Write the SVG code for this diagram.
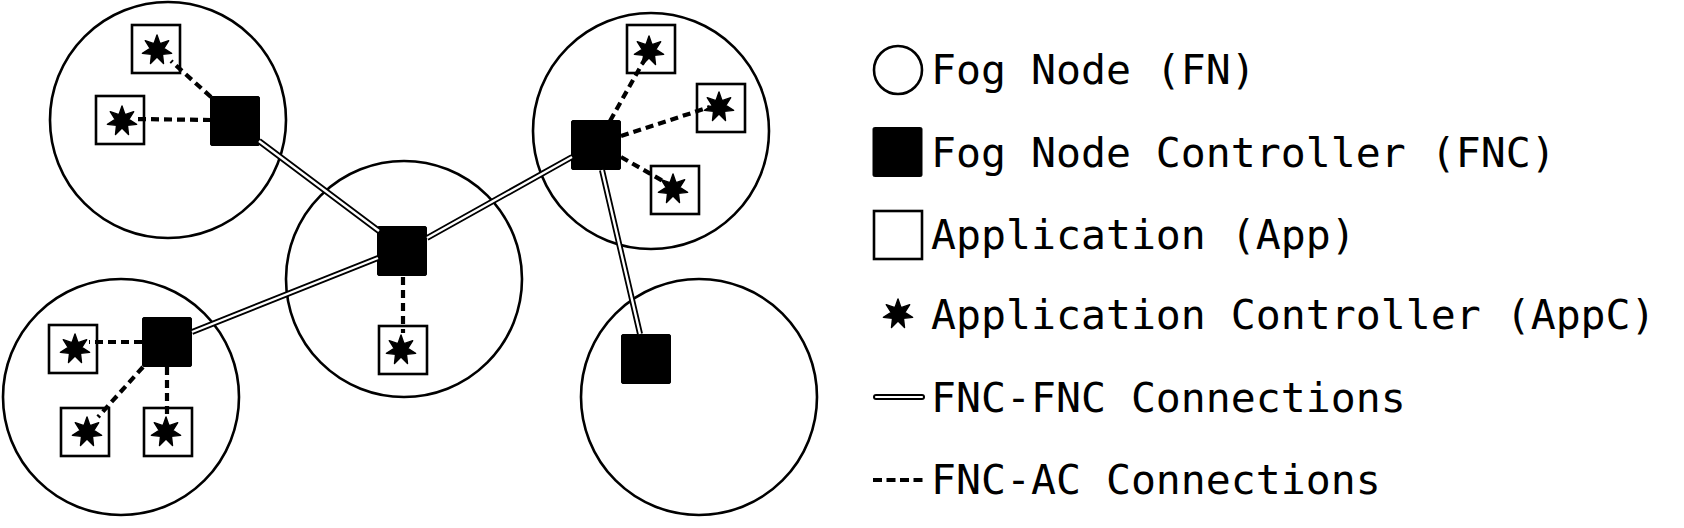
<svg xmlns="http://www.w3.org/2000/svg" xmlns:xlink="http://www.w3.org/1999/xlink" width="1684" height="528" viewBox="0 0 1684 528">
<style>
  .fn { fill: none; stroke: #000; stroke-width: 2.6; }
  .fnc { fill: #000; stroke: #000; stroke-width: 1; stroke-linejoin: round; }
  .app { fill: #fff; stroke: #000; stroke-width: 2.6; }
  .star { fill: #000; stroke: #000; stroke-width: 1.4; stroke-linejoin: round; }
  .dd { fill: none; stroke: #000; stroke-width: 4.2; stroke-dasharray: 8 5; }
  .dbl-o { fill: none; stroke: #000; stroke-width: 6; }
  .dbl-i { fill: none; stroke: #fff; stroke-width: 2.4; }
  .lbl { font-family: "DejaVu Sans Mono", "Liberation Mono", monospace; font-size: 41.5px; fill: #000; }
</style>
<defs>
  <path id="star" d="M0,-15 L3.03,-6.31 L11.73,-9.35 L6.83,-1.56 L14.62,3.34 L5.47,4.37 L6.51,13.51 L0,7 L-6.51,13.51 L-5.47,4.37 L-14.62,3.34 L-6.83,-1.56 L-11.73,-9.35 L-3.03,-6.31 Z"/>
  <rect id="appbox" x="-24" y="-24" width="48" height="48"/>
  <rect id="fncbox" x="-24.5" y="-24.5" width="49" height="49" rx="1.5"/>
</defs>
<rect width="1684" height="528" fill="#fff"/>

<g id="fn1">
  <circle class="fn" cx="168" cy="120" r="118"/>
  <use xlink:href="#fncbox" class="fnc" x="235" y="121"/>
  <g id="app1"><use xlink:href="#appbox" class="app" x="156" y="49"/><use xlink:href="#star" class="star" x="157" y="50"/></g>
  <g id="app2"><use xlink:href="#appbox" class="app" x="120" y="120"/><use xlink:href="#star" class="star" x="122" y="121"/></g>
</g>
<g id="fn2">
  <circle class="fn" cx="651" cy="131" r="118"/>
  <use xlink:href="#fncbox" class="fnc" x="596" y="145"/>
  <g id="app3"><use xlink:href="#appbox" class="app" x="651" y="49"/><use xlink:href="#star" class="star" x="649" y="51"/></g>
  <g id="app4"><use xlink:href="#appbox" class="app" x="721" y="108"/><use xlink:href="#star" class="star" x="719" y="107"/></g>
  <g id="app5"><use xlink:href="#appbox" class="app" x="675" y="190"/><use xlink:href="#star" class="star" x="673" y="189"/></g>
</g>
<g id="fn3">
  <circle class="fn" cx="121" cy="397" r="118"/>
  <use xlink:href="#fncbox" class="fnc" x="167" y="342"/>
  <g id="app6"><use xlink:href="#appbox" class="app" x="73" y="349"/><use xlink:href="#star" class="star" x="75" y="349"/></g>
  <g id="app7"><use xlink:href="#appbox" class="app" x="85" y="432"/><use xlink:href="#star" class="star" x="87" y="432"/></g>
  <g id="app8"><use xlink:href="#appbox" class="app" x="168" y="432"/><use xlink:href="#star" class="star" x="166" y="432"/></g>
</g>
<g id="fn4">
  <circle class="fn" cx="404" cy="279" r="118"/>
  <use xlink:href="#fncbox" class="fnc" x="402" y="251"/>
  <g id="app9"><use xlink:href="#appbox" class="app" x="403" y="350"/><use xlink:href="#star" class="star" x="401" y="350"/></g>
</g>
<g id="fn5">
  <circle class="fn" cx="699" cy="397" r="118"/>
  <use xlink:href="#fncbox" class="fnc" x="646" y="359"/>
</g>

<g id="connectors">
  <g id="fnc-fnc">
    <path class="dbl-o" d="M259,141 L379,231 M427,238 L572,157 M192,332 L378,258 M602,170 L640,334"/>
    <path class="dbl-i" d="M259,141 L379,231 M427,238 L572,157 M192,332 L378,258 M602,170 L640,334"/>
  </g>
  <g id="fnc-ac">
    <path class="dd" d="M211,97 L171,61"/>
    <path class="dd" d="M211,120 L135,119"/>
    <path class="dd" d="M610,121 L646,57"/>
    <path class="dd" d="M621,136 L710,107"/>
    <path class="dd" d="M621,157 L663,181"/>
    <path class="dd" d="M142,342 L89,342"/>
    <path class="dd" d="M143,367 L98,417"/>
    <path class="dd" d="M167,367 L167,418"/>
    <path class="dd" d="M403,277 L403,333"/>
  </g>
</g>

<g id="legend">
  <circle class="fn" cx="898" cy="70" r="24"/>
  <text class="lbl" x="931" y="84">Fog Node (FN)</text>
  <use xlink:href="#fncbox" class="fnc" x="897.5" y="152"/>
  <text class="lbl" x="931" y="167">Fog Node Controller (FNC)</text>
  <use xlink:href="#appbox" class="app" x="898" y="235"/>
  <text class="lbl" x="931" y="249">Application (App)</text>
  <use xlink:href="#star" class="star" x="898" y="314"/>
  <text class="lbl" x="931" y="329">Application Controller (AppC)</text>
  <line x1="876" y1="397" x2="922" y2="397" stroke="#000" stroke-width="6" stroke-linecap="round"/>
  <line x1="876" y1="397" x2="922" y2="397" stroke="#fff" stroke-width="2.2" stroke-linecap="round"/>
  <text class="lbl" x="931" y="412">FNC-FNC Connections</text>
  <line x1="873" y1="480" x2="924" y2="480" stroke="#000" stroke-width="4" stroke-dasharray="9 4.5"/>
  <text class="lbl" x="931" y="494">FNC-AC Connections</text>
</g>
</svg>
